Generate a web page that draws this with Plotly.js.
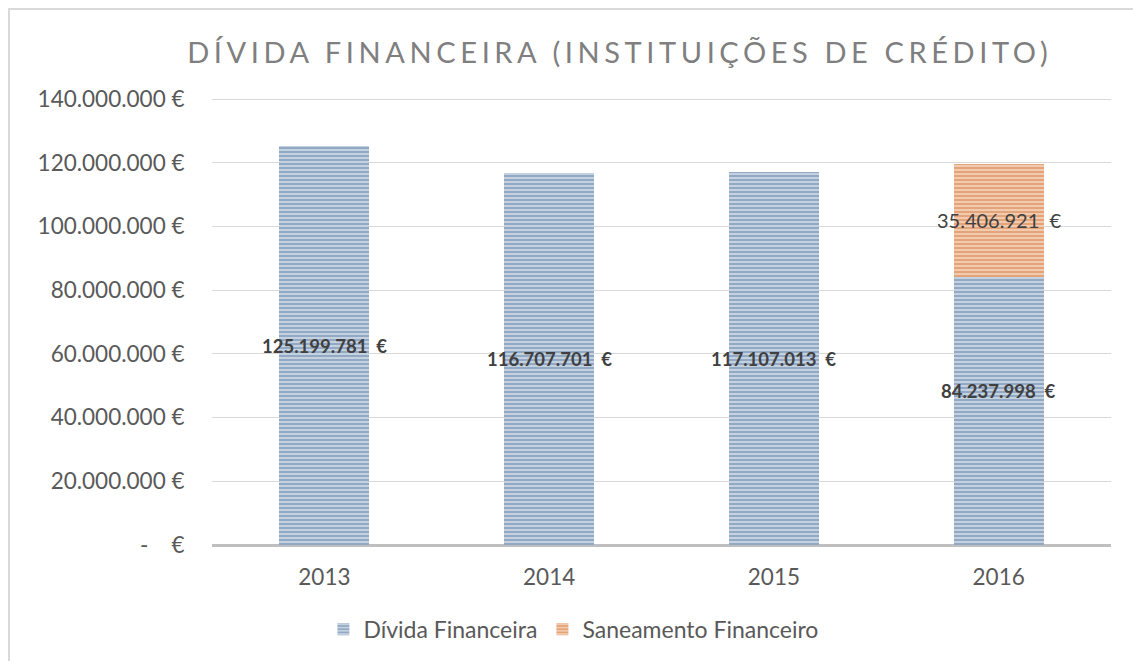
<!DOCTYPE html>
<html>
<head>
<meta charset="utf-8">
<script src="https://cdn.plot.ly/plotly-3.0.1.min.js"></script>
<style>
  body { margin: 0; padding: 0; background: #ffffff; }
  #chart { position: absolute; left: 0; top: 0; width: 1133px; height: 661px; }
  #frame { position: absolute; left: 8px; top: 8px; width: 1200px; height: 700px; border: 2px solid #d9d9d9; pointer-events: none; }
  .gtitle { letter-spacing: 4.6px; }
</style>
</head>
<body>
<div id="chart"></div>
<div id="frame"></div>
<script>
const years = ["2013", "2014", "2015", "2016"];
const dividaValues = [125199781, 116707701, 117107013, 84237998];
const saneamentoValues = [null, null, null, 35406921];
const dividaLabels = ["125.199.781  €", "116.707.701  €", "117.107.013  €", "84.237.998  €"];
const saneamentoLabels = ["", "", "", "35.406.921  €"];
const tickValues = [0, 20000000, 40000000, 60000000, 80000000, 100000000, 120000000, 140000000];
const tickLabels = ["-    €", "20.000.000 €", "40.000.000 €", "60.000.000 €", "80.000.000 €", "100.000.000 €", "120.000.000 €", "140.000.000 €"];

const fontFamily = "Lato, 'Open Sans', sans-serif";

const traces = [
  {
    type: "bar",
    name: "Dívida Financeira",
    x: years,
    y: dividaValues,
    width: 0.4,
    marker: {
      color: "#93a9c3",
      line: { width: 0 },
      pattern: { shape: "-", size: 4, solidity: 0.45, fgcolor: "#c9d6e4", bgcolor: "#93a9c3" }
    },
    hoverinfo: "none"
  },
  {
    type: "bar",
    name: "Saneamento Financeiro",
    x: years,
    y: saneamentoValues,
    width: 0.4,
    marker: {
      color: "#e3a479",
      line: { width: 0 },
      pattern: { shape: "-", size: 4, solidity: 0.45, fgcolor: "#f4cfb5", bgcolor: "#e3a479" }
    },
    hoverinfo: "none"
  }
];

const annotations = [];
years.forEach((yr, i) => {
  annotations.push({
    x: i, y: dividaValues[i] / 2, xref: "x", yref: "y",
    text: "<b>" + dividaLabels[i] + "</b>", showarrow: false,
    yshift: i === 3 ? 20 : 0,
    font: { family: fontFamily, size: 18.5, color: "#404040" }
  });
  if (saneamentoValues[i]) {
    annotations.push({
      x: i, y: dividaValues[i] + saneamentoValues[i] / 2, xref: "x", yref: "y",
      text: saneamentoLabels[i], showarrow: false,
      font: { family: fontFamily, size: 20, color: "#404040" }
    });
  }
});

const layout = {
  width: 1133,
  height: 661,
  margin: { l: 212, r: 22, t: 96, b: 115 },
  paper_bgcolor: "#ffffff",
  plot_bgcolor: "#ffffff",
  barmode: "stack",
  font: { family: fontFamily, color: "#595959" },
  title: {
    text: "DÍVIDA FINANCEIRA (INSTITUIÇÕES DE CRÉDITO)",
    font: { family: fontFamily, size: 29, color: "#7f7f7f" },
    x: 0.547, xanchor: "center",
    y: 0.92, yanchor: "middle"
  },
  xaxis: {
    type: "category",
    range: [-0.5, 3.5],
    tickfont: { family: fontFamily, size: 22.5, color: "#595959" },
    showline: false,
    ticks: "outside",
    ticklen: 12,
    tickcolor: "rgba(0,0,0,0)",
    showgrid: false,
    zeroline: false,
    fixedrange: true
  },
  yaxis: {
    range: [0, 141000000],
    tickvals: tickValues,
    ticktext: tickLabels,
    tickfont: { family: fontFamily, size: 22.5, color: "#595959" },
    showgrid: true,
    gridcolor: "#d9d9d9",
    gridwidth: 1,
    zeroline: true,
    zerolinecolor: "#bfbfbf",
    zerolinewidth: 3,
    showline: false,
    ticks: "outside",
    ticklen: 22,
    tickcolor: "rgba(0,0,0,0)",
    fixedrange: true
  },
  showlegend: true,
  legend: {
    orientation: "h",
    traceorder: "normal",
    x: 0.402, xanchor: "center",
    y: -0.185, yanchor: "middle",
    font: { family: fontFamily, size: 23, color: "#595959" },
    itemwidth: 30,
    tracegroupgap: 0
  },
  annotations: annotations
};

Plotly.newPlot("chart", traces, layout, { displayModeBar: false, staticPlot: true });
</script>
</body>
</html>
